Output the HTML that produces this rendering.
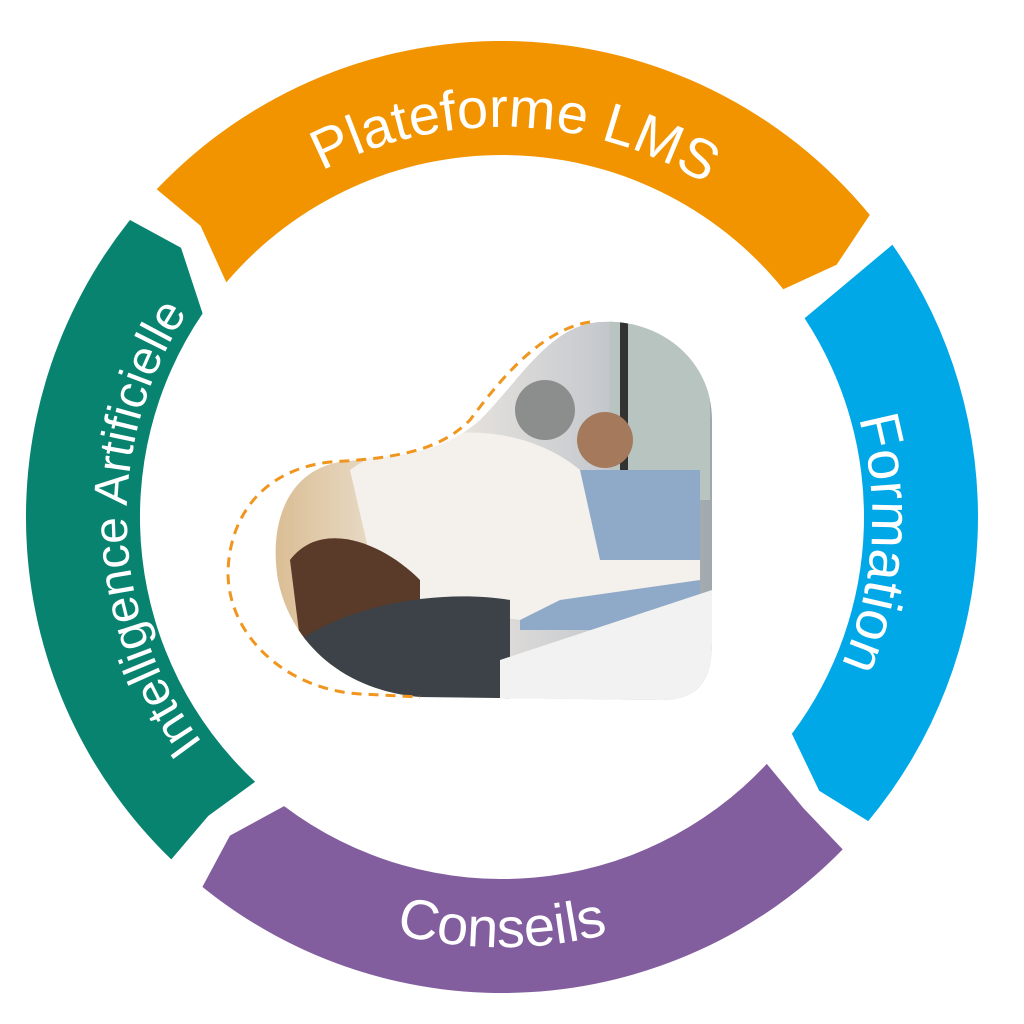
<!DOCTYPE html>
<html><head><meta charset="utf-8"><style>
html,body{margin:0;padding:0;background:#fff;width:1024px;height:1024px;overflow:hidden}
svg{display:block}
text{font-family:"Liberation Sans","DejaVu Sans",sans-serif;fill:#fff}
</style></head><body>
<svg id="s" width="1024" height="1024" viewBox="0 0 1024 1024" xmlns="http://www.w3.org/2000/svg">
<defs>
<clipPath id="blob"><path d="M600,322 C660,318 712,360 712,420 L712,640 C712,680 700,700 660,700 L420,697 C340,690 290,640 278,580 C268,520 290,470 340,462 C400,455 440,455 480,420 C520,380 550,325 600,322 Z"/></clipPath>
<linearGradient id="bg" x1="0" y1="0" x2="1" y2="0"><stop offset="0" stop-color="#d8b98c"/><stop offset="0.35" stop-color="#efe9e0"/><stop offset="0.7" stop-color="#c9ccd0"/><stop offset="1" stop-color="#9aa3a8"/></linearGradient>
</defs>
<g id="ring"></g>
<g clip-path="url(#blob)">
<rect x="260" y="300" width="470" height="420" fill="url(#bg)"/>
<rect x="610" y="320" width="100" height="180" fill="#b8c4c0"/>
<rect x="620" y="320" width="8" height="300" fill="#333"/>
<rect x="520" y="470" width="180" height="160" fill="#8fa9c8"/>
<path d="M350,470 C420,420 520,420 580,470 L600,560 L700,560 L700,580 L560,600 L520,620 L380,600 Z" fill="#f4f1ec"/>
<path d="M290,560 C320,520 380,540 420,580 L420,640 L300,640 Z" fill="#5a3a28"/>
<path d="M300,640 C360,600 450,590 510,600 L510,700 L300,700 Z" fill="#3c4248"/>
<path d="M500,660 L712,590 L712,700 L500,700 Z" fill="#f2f2f2"/>
<circle cx="545" cy="410" r="30" fill="#8b8e8c"/>
<circle cx="605" cy="440" r="28" fill="#a57a5c"/>
</g>
<path d="M590,322 C540,330 500,380 470,420 C440,450 400,458 330,462 C260,470 228,520 228,575 C230,640 290,690 360,694 L420,697" fill="none" stroke="#f0961e" stroke-width="3" stroke-dasharray="10 7"/>
</svg>
<script>
var cx=502,cy=517,R=476,M=419,r=362;
function P(a,rad){a=a*Math.PI/180;return (cx+rad*Math.cos(a)).toFixed(1)+","+(cy+rad*Math.sin(a)).toFixed(1);}
var segs=[
["#f29400",[-136.5,-136,-139.6],[-39.4,-37,-39]],
["#00a8e8",[-34.9,-34.2,-33.3],[39.7,40.8,36.8]],
["#835e9f",[44.3,44,43],[129,130.5,127]],
["#078370",[134,134.5,133],[218.6,220,214.2]]];
var g=document.getElementById("ring"),h="";
segs.forEach(function(s){
var a=s[1],b=s[2];
var lo=(b[0]-a[0])>180?1:0, li=(b[2]-a[2])>180?1:0;
h+='<path fill="'+s[0]+'" d="M'+P(a[0],R)+' A'+R+','+R+' 0 '+lo+' 1 '+P(b[0],R)+' L'+P(b[1],M)+' L'+P(b[2],r)+' A'+r+','+r+' 0 '+li+' 0 '+P(a[2],r)+' L'+P(a[1],M)+' Z"/>';
});
function arc(id,c,rad,cw){var a1=c-80,a2=c+80;
if(cw)return '<path id="'+id+'" fill="none" d="M'+P(a1,rad)+' A'+rad+','+rad+' 0 0 1 '+P(a2,rad)+'"/>';
return '<path id="'+id+'" fill="none" d="M'+P(a2,rad)+' A'+rad+','+rad+' 0 0 0 '+P(a1,rad)+'"/>';}
h+=arc("t1",-88,390,1)+arc("t2",4,370,1)+arc("t3",90,430,0)+arc("t4",178,375,1);
function T(id,txt,fs){return '<text font-size="'+fs+'" text-anchor="middle"><textPath href="#'+id+'" startOffset="50%">'+txt+'</textPath></text>';}
h+=T("t1","Plateforme LMS",56)+T("t2","Formation",56)+T("t3","Conseils",56)+T("t4","Intelligence Artificielle",48);
g.innerHTML=h;
</script>
</body></html>
